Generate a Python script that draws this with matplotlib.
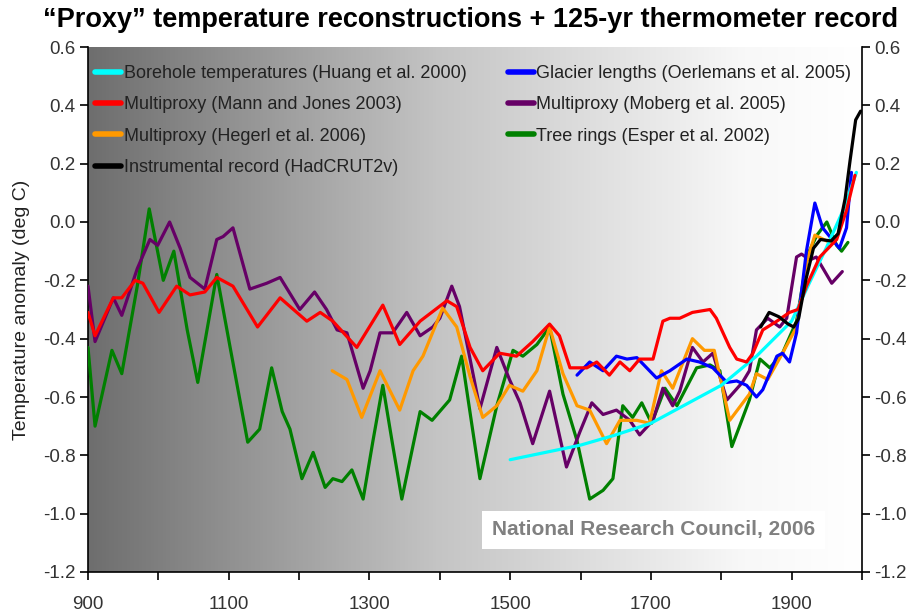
import numpy as np
import matplotlib
matplotlib.use("Agg")
import matplotlib.pyplot as plt
from matplotlib.colors import LinearSegmentedColormap

plt.rcParams['axes.unicode_minus'] = False
FONT = 'Liberation Sans'

# ---------------- data (year, anomaly in deg C) ----------------
mann_years = [900, 910, 936, 948, 967, 978, 1001, 1026, 1045, 1066, 1083, 1106, 1141, 1173,
              1211, 1230, 1248, 1282, 1319, 1343, 1372, 1410, 1424, 1443, 1461, 1485, 1509,
              1532, 1556, 1570, 1585, 1609, 1623, 1641, 1656, 1670, 1684, 1703, 1717, 1727,
              1741, 1759, 1784, 1793, 1812, 1822, 1836, 1845, 1859, 1879, 1897, 1909, 1921,
              1940, 1964, 1978, 1990]
mann_vals = [-0.31, -0.39, -0.26, -0.26, -0.20, -0.21, -0.31, -0.22, -0.25, -0.24, -0.19, -0.22,
             -0.36, -0.26, -0.34, -0.31, -0.34, -0.43, -0.285, -0.42, -0.34, -0.27, -0.29, -0.43,
             -0.51, -0.45, -0.46, -0.41, -0.35, -0.39, -0.50, -0.50, -0.48, -0.525, -0.48, -0.51,
             -0.47, -0.47, -0.34, -0.33, -0.33, -0.31, -0.30, -0.33, -0.43, -0.47, -0.48, -0.45,
             -0.37, -0.34, -0.31, -0.30, -0.22, -0.12, -0.06, 0.04, 0.16]

moberg_years = [900, 910, 936, 948, 970, 988, 999, 1016, 1031, 1045, 1066, 1083, 1092, 1106,
                1130, 1154, 1173, 1201, 1222, 1239, 1254, 1268, 1291, 1301, 1315, 1333, 1353,
                1372, 1390, 1400, 1417, 1428, 1443, 1457, 1481, 1499, 1514, 1532, 1556, 1580,
                1599, 1616, 1632, 1651, 1670, 1684, 1703, 1717, 1731, 1741, 1759, 1774, 1788,
                1808, 1830, 1840, 1850, 1866, 1883, 1893, 1907, 1914, 1926, 1935, 1957, 1972]
moberg_vals = [-0.22, -0.41, -0.26, -0.32, -0.16, -0.06, -0.08, 0.00, -0.09, -0.19, -0.23, -0.06,
               -0.05, -0.02, -0.23, -0.21, -0.19, -0.30, -0.24, -0.30, -0.37, -0.38, -0.57, -0.51,
               -0.38, -0.38, -0.31, -0.39, -0.36, -0.33, -0.22, -0.29, -0.47, -0.64, -0.43, -0.54,
               -0.62, -0.76, -0.58, -0.84, -0.72, -0.62, -0.66, -0.645, -0.68, -0.73, -0.68, -0.57,
               -0.63, -0.58, -0.43, -0.48, -0.45, -0.61, -0.55, -0.51, -0.37, -0.33, -0.36, -0.33,
               -0.12, -0.11, -0.13, -0.12, -0.21, -0.17]

esper_years = [900, 910, 934, 948, 970, 987, 1007, 1022, 1041, 1056, 1083, 1102, 1127, 1144,
               1161, 1176, 1187, 1204, 1220, 1237, 1248, 1261, 1275, 1291, 1305, 1319, 1332,
               1346, 1372, 1389, 1414, 1431, 1457, 1481, 1504, 1518, 1538, 1556, 1575, 1595,
               1613, 1632, 1646, 1660, 1674, 1687, 1701, 1720, 1737, 1765, 1784, 1798, 1815,
               1826, 1840, 1855, 1869, 1887, 1907, 1923, 1936, 1950, 1964, 1971, 1980]
esper_vals = [-0.43, -0.70, -0.44, -0.52, -0.22, 0.045, -0.20, -0.10, -0.37, -0.55, -0.18, -0.43,
              -0.755, -0.71, -0.50, -0.65, -0.71, -0.88, -0.79, -0.91, -0.88, -0.89, -0.85, -0.95,
              -0.75, -0.56, -0.75, -0.95, -0.65, -0.68, -0.61, -0.46, -0.88, -0.63, -0.44, -0.46,
              -0.42, -0.36, -0.59, -0.75, -0.95, -0.92, -0.88, -0.63, -0.67, -0.62, -0.69, -0.57,
              -0.63, -0.50, -0.49, -0.51, -0.77, -0.70, -0.61, -0.47, -0.50, -0.45, -0.34, -0.11,
              -0.045, 0.00, -0.08, -0.10, -0.07]

hegerl_years = [1247, 1268, 1289, 1315, 1343, 1362, 1376, 1404, 1424, 1443, 1461, 1481, 1499,
                1518, 1538, 1556, 1575, 1595, 1613, 1637, 1656, 1680, 1698, 1715, 1731, 1759,
                1776, 1790, 1812, 1840, 1850, 1866, 1887, 1907, 1921, 1933, 1954, 1961]
hegerl_vals = [-0.51, -0.54, -0.67, -0.51, -0.645, -0.51, -0.46, -0.295, -0.36, -0.53, -0.67,
               -0.63, -0.56, -0.58, -0.51, -0.36, -0.52, -0.63, -0.645, -0.76, -0.68, -0.68,
               -0.69, -0.51, -0.57, -0.40, -0.44, -0.44, -0.68, -0.59, -0.52, -0.54, -0.45,
               -0.36, -0.14, -0.045, -0.07, -0.06]

glacier_years = [1595, 1613, 1632, 1651, 1666, 1680, 1694, 1708, 1727, 1751, 1769, 1788, 1808,
                 1822, 1836, 1850, 1859, 1879, 1887, 1897, 1907, 1921, 1933, 1944, 1961, 1968,
                 1978, 1985]
glacier_vals = [-0.525, -0.48, -0.51, -0.46, -0.47, -0.465, -0.50, -0.535, -0.51, -0.47, -0.48,
                -0.50, -0.55, -0.545, -0.56, -0.60, -0.575, -0.46, -0.45, -0.48, -0.38, -0.10,
                0.065, -0.02, -0.07, -0.09, -0.02, 0.17]

borehole_years = [1500, 1550, 1600, 1650, 1700, 1750, 1800, 1850, 1900, 1925, 1950, 1975, 1992]
borehole_vals = [-0.815, -0.79, -0.765, -0.73, -0.69, -0.625, -0.56, -0.46, -0.34, -0.21, -0.085,
                 0.05, 0.17]

hadcrut_years = [1856, 1868, 1882, 1895, 1903, 1910, 1920, 1931, 1941, 1956, 1966, 1976, 1983,
                 1991, 1998]
hadcrut_vals = [-0.36, -0.31, -0.325, -0.35, -0.36, -0.33, -0.20, -0.09, -0.06, -0.065, -0.04,
                0.08, 0.21, 0.35, 0.38]

series = [
    ("Borehole temperatures (Huang et al. 2000)", borehole_years, borehole_vals, "#00ffff"),
    ("Multiproxy (Mann and Jones 2003)", mann_years, mann_vals, "#ff0000"),
    ("Multiproxy (Hegerl et al. 2006)", hegerl_years, hegerl_vals, "#ff9900"),
    ("Instrumental record (HadCRUT2v)", hadcrut_years, hadcrut_vals, "#000000"),
    ("Glacier lengths (Oerlemans et al. 2005)", glacier_years, glacier_vals, "#0000ff"),
    ("Multiproxy (Moberg et al. 2005)", moberg_years, moberg_vals, "#660066"),
    ("Tree rings (Esper et al. 2002)", esper_years, esper_vals, "#008000"),
]
draw_order = [6, 5, 2, 4, 0, 1, 3]

y_ticks = [0.6, 0.4, 0.2, 0.0, -0.2, -0.4, -0.6, -0.8, -1.0, -1.2]
x_label_ticks = [900, 1100, 1300, 1500, 1700, 1900]
x_all_ticks = list(range(900, 2001, 100))

# ---------------- figure ----------------
fig = plt.figure(figsize=(9.12, 6.16), dpi=100)
fig.patch.set_facecolor("white")
ax = fig.add_axes([88 / 912, 1 - 572 / 616, (862 - 88) / 912, (572 - 47) / 616])
ax.set_xlim(900, 2000)
ax.set_ylim(-1.2, 0.6)

cmap = LinearSegmentedColormap.from_list("bg", [(0, "#6e6e6e"), (0.45, "#c4c4c4"),
                                                (0.85, "#f8f8f8"), (1.0, "#ffffff")])
grad = np.linspace(0, 1, 512).reshape(1, -1)
ax.imshow(grad, cmap=cmap, aspect="auto", extent=[900, 2000, -1.2, 0.6], zorder=0,
          interpolation="bilinear")

handles = {}
for i in draw_order:
    lab, xs, ys, c = series[i]
    h, = ax.plot(xs, ys, color=c, lw=2.3, solid_capstyle="round", solid_joinstyle="round",
                 zorder=3)
    handles[i] = h

leg = ax.legend([handles[i] for i in range(7)], [s[0] for s in series], ncol=2,
                loc="upper left", bbox_to_anchor=(0.0, 1.0 - 11 / 525), frameon=False,
                prop={"family": FONT, "size": 13}, handlelength=1.45, handletextpad=0.12,
                columnspacing=2.3, labelspacing=0.79, borderaxespad=0.0, borderpad=0.4)
for t in leg.get_texts():
    t.set_color("#222222")
for lh in leg.get_lines():
    lh.set_linewidth(4)

ax.text(1474, -1.056, "National Research Council, 2006", fontsize=15, fontweight="bold",
        family=FONT, color="#808080", va="center", ha="left", zorder=5,
        bbox=dict(facecolor="white", edgecolor="none", pad=7))

# spines / ticks
ax.spines["top"].set_visible(False)
for s in ("left", "right", "bottom"):
    ax.spines[s].set_color("black")
    ax.spines[s].set_linewidth(1.2)

ax.set_yticks(y_ticks)
ax.set_yticklabels([f"{v:.1f}" for v in y_ticks])
ax.set_xticks(x_all_ticks)
ax.set_xticklabels([str(v) if v in x_label_ticks else "" for v in x_all_ticks])
ax.tick_params(axis="both", direction="out", length=6, width=1.2, colors="black",
               labelcolor="#333333", labelsize=13.5)
ax.tick_params(axis="x", pad=11)
ax.tick_params(axis="y", pad=3, right=True, labelright=True)
for lbl in ax.get_xticklabels() + ax.get_yticklabels():
    lbl.set_family(FONT)

ax.set_ylabel("Temperature anomaly (deg C)", fontsize=14, family=FONT,
              color="#222222", labelpad=9)

fig.text(0.516, 0.967, "\u201cProxy\u201d temperature reconstructions + 125-yr thermometer record",
         ha="center", va="center", fontsize=19.5, fontweight="bold", family=FONT,
         color="black")

fig.savefig("out.png", dpi=100)
